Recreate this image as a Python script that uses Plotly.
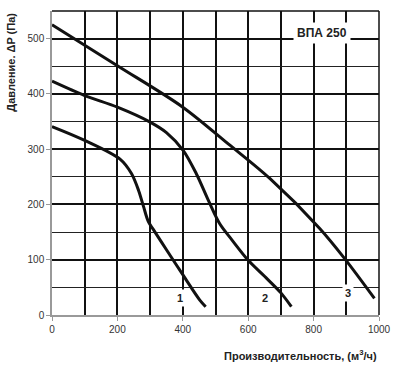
import plotly.graph_objects as go

# Curve data (flow m3/h, pressure Pa)
c1_x = [0, 100, 208, 243, 265, 280, 294, 315, 350, 401, 452, 470]
c1_y = [341, 316, 282, 256, 225, 196, 170, 150, 118, 72, 27, 15]

c2_x = [0, 100, 200, 300, 350, 401, 441, 480, 513, 550, 600, 650, 700, 732]
c2_y = [423, 397, 376, 349, 330, 298, 256, 205, 165, 136, 99, 70, 40, 15]

c3_x = [0, 200, 400, 540, 666, 818, 895, 986]
c3_y = [525, 451, 376, 309, 247, 157, 102, 30]

curve_labels = ["1", "2", "3"]
label_x = [391, 650, 904]
label_y = [31, 31, 40]

x_ticks = [0, 200, 400, 600, 800, 1000]
y_ticks = [0, 100, 200, 300, 400, 500]

fig = go.Figure()
for xs, ys in [(c1_x, c1_y), (c2_x, c2_y), (c3_x, c3_y)]:
    fig.add_trace(go.Scatter(x=xs, y=ys, mode="lines",
                             line=dict(color="#111111", width=3, shape="spline", smoothing=0.9),
                             showlegend=False, hoverinfo="skip"))

for t, lx, ly in zip(curve_labels, label_x, label_y):
    fig.add_annotation(x=lx, y=ly, text="<b>" + t + "</b>", showarrow=False, bgcolor="white",
                       font=dict(family="Liberation Sans, Arial", size=11, color="#222"),
                       borderpad=2)

fig.add_annotation(x=825, y=511, text="<b>ВПА 250</b>", showarrow=False, bgcolor="white",
                   font=dict(family="Liberation Sans, Arial", size=12, color="#222"), borderpad=3)

fig.add_annotation(xref="paper", yref="paper", x=1.0, y=-0.132, xanchor="right", yanchor="middle",
                   text="<b>Производительность, (м<sup>3</sup>/ч)</b>", showarrow=False,
                   font=dict(family="Liberation Sans, Arial", size=11, color="#222"))
fig.add_annotation(xref="paper", yref="paper", x=-0.128, y=1.0, xanchor="center", yanchor="top",
                   text="<b>Давление. ΔP (Па)</b>", showarrow=False, textangle=-90,
                   font=dict(family="Liberation Sans, Arial", size=11, color="#222"))

# top and right frame
fig.add_shape(type="line", xref="paper", yref="paper", x0=0, x1=1, y0=1, y1=1,
              line=dict(color="#111", width=1.5))
fig.add_shape(type="line", xref="paper", yref="paper", x0=1, x1=1, y0=0, y1=1,
              line=dict(color="#111", width=1.5))

fig.update_xaxes(range=[0, 1000], tickvals=x_ticks, showgrid=True, gridcolor="#111", gridwidth=1.5,
                 minor=dict(dtick=100, tick0=0, showgrid=True, gridcolor="#111", gridwidth=1.5),
                 showline=True, linecolor="#999", linewidth=1.5, ticks="outside", ticklen=4,
                 tickcolor="#999", zeroline=False, automargin=False,
                 tickfont=dict(family="Liberation Sans, Arial", size=10, color="#333"))
fig.update_yaxes(range=[0, 550], tickvals=y_ticks, showgrid=True, gridcolor="#111", gridwidth=1.5,
                 minor=dict(dtick=50, tick0=0, showgrid=True, gridcolor="#222", gridwidth=1.2),
                 showline=True, linecolor="#999", linewidth=1.5, ticks="outside", ticklen=4,
                 tickcolor="#999", zeroline=False, automargin=False,
                 tickfont=dict(family="Liberation Sans, Arial", size=10, color="#333"))

fig.update_layout(width=396, height=367, margin=dict(l=52, r=17, t=11, b=52),
                  plot_bgcolor="white", paper_bgcolor="white")

fig.write_html("out.html", config={"displayModeBar": False},
               post_script="document.body.style.margin='0';document.body.style.overflow='hidden';")
